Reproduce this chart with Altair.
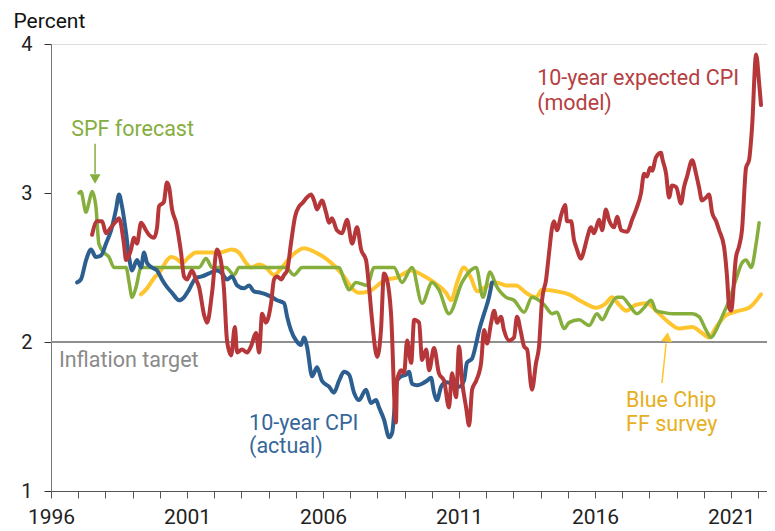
import altair as alt
import pandas as pd

# ---------------- data ----------------
red_years = [1997.51, 1997.69, 1997.88, 1998.02, 1998.21, 1998.39, 1998.50, 1998.68, 1998.76, 1998.94,
             1999.05, 1999.16, 1999.31, 1999.49, 1999.60, 1999.79, 1999.90, 1999.97, 2000.15, 2000.26,
             2000.34, 2000.45, 2000.60, 2000.78, 2000.89, 2001.00, 2001.18, 2001.33, 2001.44, 2001.63,
             2001.74, 2001.92, 2002.10, 2002.25, 2002.36, 2002.47, 2002.62, 2002.76, 2002.84, 2003.02,
             2003.21, 2003.35, 2003.54, 2003.65, 2003.76, 2003.90, 2004.09, 2004.20, 2004.31, 2004.46,
             2004.57, 2004.68, 2004.82, 2004.97, 2005.12, 2005.23, 2005.41, 2005.56, 2005.67, 2005.78,
             2005.96, 2006.11, 2006.22, 2006.33, 2006.51, 2006.70, 2006.88, 2007.07, 2007.25, 2007.40,
             2007.58, 2007.69, 2007.80, 2007.99, 2008.13, 2008.24, 2008.35, 2008.50, 2008.68, 2008.72,
             2008.87, 2008.98, 2009.09, 2009.24, 2009.35, 2009.53, 2009.64, 2009.79, 2009.90, 2010.08,
             2010.26, 2010.45, 2010.63, 2010.74, 2010.89, 2011.00, 2011.11, 2011.26, 2011.37, 2011.48,
             2011.63, 2011.81, 2011.92, 2012.03, 2012.18, 2012.29, 2012.40, 2012.54, 2012.65, 2012.84,
             2013.02, 2013.13, 2013.28, 2013.39, 2013.50, 2013.68, 2013.83, 2013.94, 2014.05, 2014.20,
             2014.31, 2014.42, 2014.49, 2014.60, 2014.75, 2014.90, 2014.97, 2015.12, 2015.23, 2015.30,
             2015.49, 2015.60, 2015.71, 2015.85, 2015.96, 2016.15, 2016.26, 2016.40, 2016.51, 2016.70,
             2016.81, 2016.96, 2017.18, 2017.36, 2017.51, 2017.69, 2017.80, 2017.91, 2018.02, 2018.10,
             2018.24, 2018.43, 2018.46, 2018.61, 2018.72, 2018.83, 2018.98, 2019.16, 2019.27, 2019.38,
             2019.57, 2019.71, 2019.82, 2019.93, 2020.08, 2020.19, 2020.30, 2020.45, 2020.56, 2020.74,
             2020.85, 2020.93, 2021.00, 2021.18, 2021.29, 2021.40, 2021.55, 2021.66, 2021.77, 2021.92,
             2022.03, 2022.10]
red_vals = [2.72, 2.81, 2.81, 2.73, 2.77, 2.81, 2.83, 2.66, 2.55, 2.62,
            2.70, 2.66, 2.80, 2.75, 2.72, 2.70, 2.77, 2.91, 2.94, 3.07,
            3.04, 2.89, 2.80, 2.60, 2.44, 2.42, 2.48, 2.42, 2.37, 2.18,
            2.13, 2.33, 2.62, 2.54, 2.35, 2.01, 1.91, 2.10, 1.93, 1.95,
            1.93, 1.97, 2.06, 1.93, 2.19, 2.13, 2.26, 2.42, 2.44, 2.42,
            2.45, 2.48, 2.66, 2.84, 2.91, 2.93, 2.97, 2.99, 2.95, 2.89,
            2.95, 2.87, 2.80, 2.83, 2.75, 2.73, 2.82, 2.66, 2.77, 2.62,
            2.55, 2.37, 2.15, 1.90, 2.08, 2.46, 2.42, 2.19, 1.46, 1.74,
            1.81, 1.79, 2.01, 1.86, 2.15, 2.13, 1.88, 1.95, 1.81, 1.96,
            1.79, 1.74, 1.56, 1.79, 1.63, 1.97, 1.74, 1.56, 1.44, 1.68,
            1.74, 1.86, 2.08, 1.99, 2.13, 2.21, 2.13, 2.17, 2.08, 2.01,
            2.03, 2.17, 2.06, 1.97, 1.95, 1.68, 1.86, 1.97, 2.28, 2.42,
            2.60, 2.77, 2.81, 2.75, 2.85, 2.92, 2.81, 2.81, 2.68, 2.64,
            2.56, 2.62, 2.70, 2.77, 2.73, 2.82, 2.75, 2.89, 2.82, 2.77,
            2.84, 2.75, 2.74, 2.82, 2.89, 3.00, 3.13, 3.11, 3.17, 3.15,
            3.24, 3.27, 3.24, 3.13, 2.97, 3.05, 3.04, 2.93, 3.04, 3.11,
            3.22, 3.13, 3.04, 2.95, 2.97, 2.99, 2.87, 2.81, 2.75, 2.64,
            2.44, 2.23, 2.21, 2.57, 2.64, 2.75, 3.17, 3.22, 3.44, 3.93,
            3.74, 3.59]

blue_years = [1996.96, 1997.10, 1997.29, 1997.47, 1997.65, 1997.84, 1998.02, 1998.21, 1998.39, 1998.50,
              1998.61, 1998.76, 1998.87, 1998.98, 1999.16, 1999.31, 1999.42, 1999.53, 1999.71, 1999.90,
              2000.08, 2000.26, 2000.45, 2000.71, 2000.89, 2001.07, 2001.33, 2001.55, 2001.81, 2002.10,
              2002.29, 2002.47, 2002.65, 2002.84, 2003.10, 2003.28, 2003.46, 2003.72, 2003.90, 2004.13,
              2004.31, 2004.57, 2004.68, 2004.82, 2005.01, 2005.19, 2005.30, 2005.41, 2005.60, 2005.78,
              2005.96, 2006.22, 2006.40, 2006.59, 2006.77, 2006.96, 2007.14, 2007.32, 2007.58, 2007.76,
              2007.95, 2008.06, 2008.24, 2008.43, 2008.54, 2008.72, 2008.87, 2009.05, 2009.16, 2009.27,
              2009.46, 2009.64, 2009.82, 2009.97, 2010.08, 2010.19, 2010.34, 2010.52, 2010.74, 2011.00,
              2011.18, 2011.29, 2011.48, 2011.63, 2011.74, 2011.92, 2012.10, 2012.21]
blue_vals = [2.40, 2.42, 2.55, 2.62, 2.57, 2.58, 2.66, 2.75, 2.89, 2.99,
             2.91, 2.73, 2.57, 2.48, 2.55, 2.50, 2.60, 2.53, 2.50, 2.48,
             2.42, 2.37, 2.33, 2.28, 2.30, 2.35, 2.43, 2.44, 2.46, 2.48,
             2.46, 2.42, 2.44, 2.38, 2.36, 2.38, 2.34, 2.33, 2.32, 2.30,
             2.28, 2.26, 2.17, 2.08, 2.01, 1.98, 2.03, 1.97, 1.77, 1.83,
             1.74, 1.70, 1.66, 1.74, 1.80, 1.78, 1.66, 1.61, 1.68, 1.59,
             1.61, 1.56, 1.48, 1.36, 1.39, 1.74, 1.77, 1.78, 1.80, 1.72,
             1.71, 1.72, 1.74, 1.76, 1.66, 1.61, 1.70, 1.73, 1.72, 1.70,
             1.74, 1.86, 1.89, 1.99, 2.08, 2.19, 2.30, 2.40]

green_years = [1997.03, 1997.10, 1997.29, 1997.40, 1997.51, 1997.65, 1997.76, 1997.95, 1998.13, 1998.32,
               1998.57, 1998.76, 1998.87, 1998.98, 1999.13, 1999.31, 1999.49, 2001.44, 2001.70, 2001.92,
               2002.43, 2002.73, 2002.91, 2004.64, 2004.93, 2005.23, 2006.59, 2006.77, 2006.96, 2007.21,
               2007.62, 2007.88, 2008.17, 2008.61, 2008.90, 2009.27, 2009.64, 2010.01, 2010.26, 2010.63,
               2011.11, 2011.37, 2011.63, 2011.88, 2012.14, 2012.36, 2012.73, 2013.02, 2013.39, 2013.68,
               2014.13, 2014.42, 2014.60, 2014.86, 2015.04, 2015.41, 2015.60, 2015.78, 2016.07, 2016.26,
               2016.51, 2016.81, 2016.99, 2017.25, 2017.54, 2017.80, 2018.06, 2018.24, 2018.46, 2018.83,
               2019.57, 2019.82, 2020.08, 2020.26, 2020.45, 2020.67, 2020.93, 2021.18, 2021.40, 2021.55,
               2021.74, 2021.92, 2022.03]
green_vals = [3.00, 3.01, 2.87, 2.94, 3.01, 2.91, 2.66, 2.60, 2.57, 2.50,
              2.50, 2.50, 2.40, 2.30, 2.37, 2.50, 2.50, 2.50, 2.56, 2.50,
              2.50, 2.45, 2.50, 2.50, 2.45, 2.50, 2.50, 2.42, 2.35, 2.40,
              2.38, 2.50, 2.50, 2.50, 2.40, 2.50, 2.26, 2.40, 2.35, 2.19,
              2.40, 2.47, 2.50, 2.30, 2.47, 2.38, 2.30, 2.28, 2.20, 2.30,
              2.25, 2.19, 2.20, 2.09, 2.13, 2.15, 2.13, 2.11, 2.19, 2.15,
              2.23, 2.30, 2.30, 2.25, 2.19, 2.23, 2.28, 2.21, 2.20, 2.19,
              2.19, 2.17, 2.08, 2.03, 2.08, 2.17, 2.28, 2.42, 2.53, 2.55,
              2.50, 2.66, 2.80]

yellow_years = [1999.31, 1999.53, 1999.79, 2000.04, 2000.23, 2000.41, 2000.60, 2000.82, 2001.07, 2001.33,
                2001.55, 2001.81, 2002.18, 2002.65, 2002.91, 2003.17, 2003.35, 2003.65, 2003.90, 2004.20,
                2004.49, 2004.86, 2005.30, 2005.74, 2006.11, 2006.48, 2006.77, 2007.07, 2007.32, 2007.69,
                2008.32, 2008.68, 2009.24, 2009.64, 2010.08, 2010.52, 2010.71, 2010.93, 2011.18, 2011.44,
                2011.66, 2011.99, 2012.36, 2012.73, 2013.10, 2013.46, 2013.83, 2014.05, 2014.57, 2015.04,
                2015.52, 2016.04, 2016.40, 2016.62, 2016.88, 2017.14, 2017.51, 2017.91, 2018.24, 2018.72,
                2019.09, 2019.57, 2019.93, 2020.19, 2020.45, 2020.82, 2021.29, 2021.66, 2022.10]
yellow_vals = [2.32, 2.36, 2.43, 2.48, 2.54, 2.57, 2.56, 2.53, 2.57, 2.60,
               2.60, 2.60, 2.60, 2.62, 2.60, 2.53, 2.50, 2.52, 2.50, 2.45,
               2.50, 2.58, 2.63, 2.60, 2.56, 2.50, 2.44, 2.36, 2.33, 2.34,
               2.42, 2.43, 2.48, 2.45, 2.40, 2.33, 2.28, 2.40, 2.50, 2.43,
               2.34, 2.37, 2.40, 2.38, 2.38, 2.33, 2.30, 2.35, 2.34, 2.32,
               2.27, 2.23, 2.26, 2.30, 2.25, 2.21, 2.25, 2.26, 2.21, 2.13,
               2.09, 2.10, 2.06, 2.03, 2.10, 2.18, 2.21, 2.23, 2.32]

target_value = [2.0]

label_texts = ["SPF forecast", "10-year expected CPI", "(model)", "10-year CPI", "(actual)",
               "Blue Chip", "FF survey", "Inflation target"]
label_years = [1996.74, 2013.87, 2013.87, 2003.28, 2003.28, 2017.14, 2017.14, 1996.29]
label_vals = [3.38, 3.725, 3.555, 1.41, 1.255, 1.564, 1.40, 1.832]
label_colors = ["#86AE3F", "#B5403F", "#B5403F", "#356699", "#356699",
                "#E6B020", "#E6B020", "#8A8A8A"]

# arrows: shaft start/end and head position
arrow_x = [1997.62, 2018.46]
arrow_y = [3.33, 1.725]
arrow_x2 = [1997.62, 2018.61]
arrow_y2 = [3.13, 1.99]
arrow_colors = ["#86AE3F", "#FEC52E"]
head_x = [1997.62, 2018.65]
head_y = [3.094, 2.034]

# ---------------- chart ----------------
FONT = "Roboto"
xscale = alt.Scale(domain=[1996, 2022.32], nice=False, zero=False)
yscale = alt.Scale(domain=[1, 4], nice=False, zero=False)
xaxis = alt.Axis(values=list(range(1996, 2023)),
                 labelExpr="datum.value % 5 == 1 ? datum.value : ''",
                 grid=False, tickSize=7, labelFontSize=21, labelPadding=8,
                 domainColor="#555555", tickColor="#555555", labelColor="#222222",
                 labelFont=FONT, labelFlush=False, labelOverlap=False, title=None)
yaxis = alt.Axis(values=[1, 2, 3, 4], format="d", grid=False, tickSize=7, labelFontSize=20,
                 labelPadding=12, labelFont=FONT, labelColor="#222222", labelFlush=False,
                 domainColor="#777777", tickColor="#333333",
                 title="Percent", titleAngle=0, titleAlign="left", titleBaseline="alphabetic",
                 titleX=-38, titleY=-17, titleFontSize=21, titleFontWeight="normal",
                 titleColor="#111111", titleFont=FONT)

X = alt.X("year:Q", scale=xscale, axis=xaxis)
Y = alt.Y("value:Q", scale=yscale, axis=yaxis)


def line(years, vals, color, width):
    df = pd.DataFrame({"year": years, "value": vals})
    return alt.Chart(df).mark_line(color=color, strokeWidth=width, interpolate="monotone",
                                   strokeJoin="round", strokeCap="round").encode(x=X, y=Y)


target = alt.Chart(pd.DataFrame({"value": target_value})).mark_rule(
    color="#8F8F8F", strokeWidth=2).encode(y=Y)

labels = alt.Chart(pd.DataFrame({"year": label_years, "value": label_vals,
                                 "text": label_texts, "color": label_colors})).mark_text(
    align="left", baseline="alphabetic", fontSize=21.5, font=FONT).encode(
    x=X, y=Y, text="text:N", color=alt.Color("color:N", scale=None))

arrows = alt.Chart(pd.DataFrame({"year": arrow_x, "value": arrow_y, "year2": arrow_x2,
                                 "value2": arrow_y2, "color": arrow_colors})).mark_rule(
    strokeWidth=1.5).encode(x=X, y=Y, x2="year2:Q", y2="value2:Q",
                            color=alt.Color("color:N", scale=None))

head_spf = alt.Chart(pd.DataFrame({"year": head_x[:1], "value": head_y[:1]})).mark_point(
    shape="triangle-down", filled=True, size=120, color="#86AE3F", opacity=1).encode(x=X, y=Y)
head_bc = alt.Chart(pd.DataFrame({"year": head_x[1:], "value": head_y[1:]})).mark_point(
    shape="triangle-up", filled=True, size=120, color="#FEC52E", opacity=1, angle=7).encode(x=X, y=Y)

chart = alt.layer(
    target,
    line(yellow_years, yellow_vals, "#FEC52E", 4),
    line(green_years, green_vals, "#86AE3C", 3.5),
    line(blue_years, blue_vals, "#2C5F8F", 4),
    line(red_years, red_vals, "#B5373A", 4),
    labels, arrows, head_spf, head_bc,
).properties(
    width=716, height=447,
    autosize=alt.AutoSizeParams(type="none"),
    padding={"left": 43, "top": 36, "right": 0, "bottom": 40},
).configure_view(stroke=None).configure(font=FONT)

chart.save("out.html", embed_options={"renderer": "svg", "actions": False})
